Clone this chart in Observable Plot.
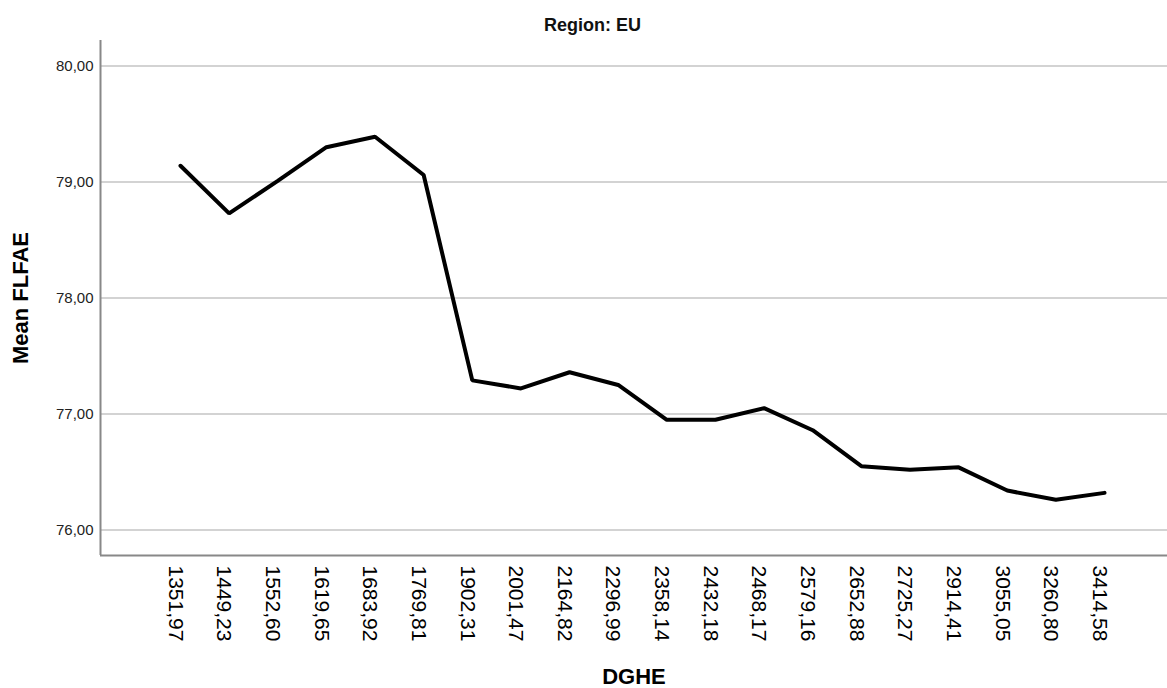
<!DOCTYPE html>
<html>
<head>
<meta charset="utf-8">
<script src="https://cdn.jsdelivr.net/npm/d3@7"></script>
<script src="https://cdn.jsdelivr.net/npm/@observablehq/plot@0.6"></script>
<style>
  html, body { margin: 0; padding: 0; background: #fff; }
  #wrap { width: 1167px; height: 688px; position: relative; font-family: "Liberation Sans", Arial, sans-serif; }
  #title { height: 40px; width: 1167px; text-align: center; font-weight: bold; font-size: 18px; line-height: 50px; color: #111; padding-left: 18px; box-sizing: border-box; }
  .spss g[aria-label="x-axis tick label"] text { font-size: 21px; fill: #000; }
  .spss g[aria-label="y-axis tick label"] text { font-size: 15px; fill: #222; }
  .spss g[aria-label="x-axis label"] text,
  .spss g[aria-label="y-axis label"] text { font-size: 22px; font-weight: bold; fill: #000; }
</style>
</head>
<body>
<div id="wrap">
  <div id="title">Region: EU</div>
  <div id="chart"></div>
</div>
<script>
const categories = ["1351,97","1449,23","1552,60","1619,65","1683,92","1769,81","1902,31","2001,47","2164,82","2296,99","2358,14","2432,18","2468,17","2579,16","2652,88","2725,27","2914,41","3055,05","3260,80","3414,58"];
const meanFLFAE = [79.14,78.73,79.01,79.30,79.39,79.06,77.29,77.22,77.36,77.25,76.95,76.95,77.05,76.86,76.55,76.52,76.54,76.34,76.26,76.32];
const yTicks = [76, 77, 78, 79, 80];

const data = categories.map((c, i) => ({i, c, v: meanFLFAE[i]}));
const xDomain = [-1.645, categories.length - 1 + 1.295];
const yDomain = [75.78, 80.22];

const chart = Plot.plot({
  className: "spss",
  width: 1167,
  height: 648,
  marginLeft: 100,
  marginRight: 0,
  marginTop: 0,
  marginBottom: 133,
  style: {fontFamily: "'Liberation Sans', Arial, sans-serif", background: "#fff"},
  x: {type: "linear", domain: xDomain},
  y: {domain: yDomain},
  marks: [
    Plot.gridY(yTicks, {stroke: "#c4c4c4", strokeOpacity: 1, strokeWidth: 1.6}),
    Plot.axisY({ticks: yTicks, tickSize: 0, tickPadding: 7, tickFormat: d => d.toFixed(2).replace(".", ","),
      label: "Mean FLFAE", labelArrow: "none", labelAnchor: "center", labelOffset: 88}),
    Plot.axisX({ticks: d3.range(categories.length), tickSize: 0, tickPadding: 10, tickRotate: 90, dx: -5,
      tickFormat: i => categories[i], label: "DGHE", labelArrow: "none", labelAnchor: "center", labelOffset: 128}),
    Plot.ruleY([yDomain[0]], {stroke: "#888", strokeWidth: 2}),
    Plot.ruleX([xDomain[0]], {stroke: "#888", strokeWidth: 2}),
    Plot.line(data, {x: "i", y: "v", stroke: "#000", strokeWidth: 4, strokeLinejoin: "miter"})
  ]
});
document.getElementById("chart").appendChild(chart);
</script>
</body>
</html>
